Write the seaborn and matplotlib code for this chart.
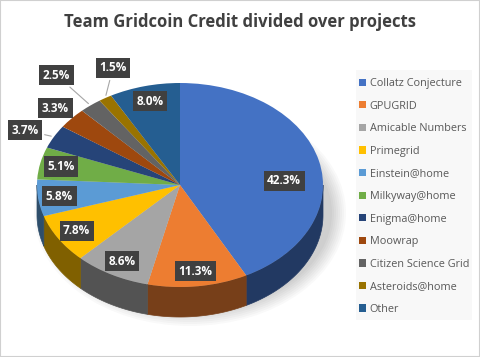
import numpy as np
import seaborn as sns
import matplotlib
matplotlib.use("Agg")
import matplotlib.pyplot as plt
from matplotlib.patches import Polygon, Ellipse, Rectangle
from matplotlib.transforms import Affine2D

# data
projects = ['Collatz Conjecture', 'GPUGRID', 'Amicable Numbers', 'Primegrid',
            'Einstein@home', 'Milkyway@home', 'Enigma@home', 'Moowrap',
            'Citizen Science Grid', 'Asteroids@home', 'Other']
shares = [42.3, 11.3, 8.6, 7.8, 5.8, 5.1, 3.7, 3.3, 2.5, 1.5, 8.0]
colors = ['#4472C4', '#ED7D31', '#A5A5A5', '#FFC000', '#5B9BD5', '#70AD47',
          '#264478', '#9E480E', '#636363', '#997300', '#255E91']

sns.set_style("white")
plt.rcParams['font.family'] = ['Open Sans', 'DejaVu Sans']

fig = plt.figure(figsize=(4.8, 3.57), dpi=100)
ax = fig.add_axes([0, 0, 1, 1])

# pie geometry in pixel units (y up)
cx, cy = 180, 172
R = 143
k = 102 / 143        # vertical squash for the tilted look
depth = 30

palette = sns.color_palette(colors)
wedges, _ = ax.pie(shares, colors=palette, startangle=90, counterclock=False,
                   center=(cx, cy), radius=R, frame=True,
                   wedgeprops=dict(linewidth=0))
squash = Affine2D().translate(-cx, -cy).scale(1, k).translate(cx, cy)
for w in wedges:
    w.set_transform(squash + ax.transData)
    w.set_zorder(3)

ax.set_aspect('auto')
ax.set_xlim(0, 480)
ax.set_ylim(0, 357)
ax.axis('off')

# faint legend panel
ax.add_patch(Rectangle((356, 357 - 320), 116, 250, fc='#f8f8f8', ec='none',
                       zorder=0))

# soft shadow under the pie
for i in range(8):
    ax.add_patch(Ellipse((cx + 10, cy - depth + 2), 2 * R + 26 - i * 4,
                         2 * R * k + 22 - i * 4, color='black', alpha=0.025,
                         lw=0, zorder=0.5))

# side walls for the front half
for w, c in zip(wedges, palette):
    t1, t2 = w.theta1, w.theta2
    for a, b in [(-540, -360), (-180, 0), (180, 360)]:
        lo, hi = max(t1, a), min(t2, b)
        if lo >= hi:
            continue
        t = np.radians(np.linspace(lo, hi, 80))
        xs = cx + R * np.cos(t)
        ys = cy + R * k * np.sin(t)
        pts = np.column_stack([np.r_[xs, xs[::-1]],
                               np.r_[ys, ys[::-1] - depth]])
        dark = tuple(v * 0.5 for v in c)
        ax.add_patch(Polygon(pts, closed=True, fc=dark, ec=dark, lw=0.5,
                             zorder=2))

# data labels
label_r = {'Collatz Conjecture': 0.75, 'Enigma@home': 1.2, 'Moowrap': 1.15,
           'Citizen Science Grid': 1.38, 'Asteroids@home': 1.35}
nudge = {'Collatz Conjecture': (0, -14), 'Asteroids@home': (34, 0),
         'Enigma@home': (-4, -3)}
leader = ['Enigma@home', 'Citizen Science Grid', 'Asteroids@home']

for w, name, s in zip(wedges, projects, shares):
    mid = np.radians((w.theta1 + w.theta2) / 2)
    r = label_r.get(name, 0.85)
    dx, dy = nudge.get(name, (0, 0))
    tx = cx + r * R * np.cos(mid) + dx
    ty = cy + r * R * k * np.sin(mid) + dy
    box = dict(boxstyle='square,pad=0.3', fc='#404040', ec='none')
    if name in leader:
        ex, ey = cx + R * np.cos(mid), cy + R * k * np.sin(mid)
        ax.annotate(f'{s:.1f}%', xy=(ex, ey), xytext=(tx, ty),
                    ha='center', va='center', color='white', fontsize=8.5,
                    fontweight='bold', bbox=box, zorder=6,
                    arrowprops=dict(arrowstyle='-', color='#a6a6a6', lw=0.8))
    else:
        ax.text(tx, ty, f'{s:.1f}%', ha='center', va='center', color='white',
                fontsize=8.5, fontweight='bold', bbox=box, zorder=6)

fig.text(0.499, 1 - 22 / 357, 'Team Gridcoin Credit divided over projects',
         ha='center', va='center', fontsize=12, fontweight='bold',
         color='#404040')

fig.legend(wedges, projects, loc='upper left',
           bbox_to_anchor=(359 / 480, 1 - 78 / 357), frameon=False,
           fontsize=7.8, labelcolor='#595959', handlelength=0.65,
           handleheight=0.65, handletextpad=0.35, labelspacing=1.07,
           borderpad=0, borderaxespad=0)

fig.add_artist(Rectangle((0, 0), 1, 1, transform=fig.transFigure, fill=False,
                         ec='#d0d0d0', lw=1.5))

fig.savefig('out.png', dpi=100)
